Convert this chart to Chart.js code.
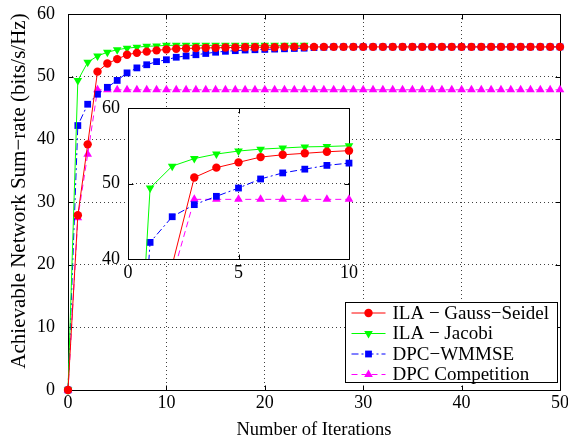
<!DOCTYPE html>
<html>
<head>
<meta charset="utf-8">
<script src="https://cdn.jsdelivr.net/npm/chart.js@4.4.0/dist/chart.umd.min.js"></script>
<style>
  html, body { margin: 0; padding: 0; background: #fff; }
  #wrap { position: relative; width: 568px; height: 443px; overflow: hidden; }
  #main { position: absolute; left: 0; top: 0; }
  #inset { position: absolute; left: 90px; top: 98px; }
</style>
</head>
<body>
<div id="wrap">
  <canvas id="main" width="568" height="443"></canvas>
  <canvas id="inset" width="275" height="190"></canvas>
</div>
<script>
// x values: iteration number 0..50
const iterations = Array.from({ length: 51 }, (_, i) => i);

// sum-rate values (bits/s/Hz)
const gaussSeidel = [
  0, 27.9, 39.2, 50.8, 52.1, 52.8, 53.5, 53.8, 54.0, 54.2, 54.35,
  54.45, 54.5, 54.55, 54.6, 54.6, 54.65, 54.65, 54.7, 54.7, 54.7,
  54.7, 54.75, 54.75, 54.75, 54.75, 54.75, 54.75, 54.75, 54.75, 54.75,
  54.75, 54.75, 54.75, 54.75, 54.75, 54.75, 54.75, 54.75, 54.75, 54.75,
  54.75, 54.75, 54.75, 54.75, 54.75, 54.75, 54.75, 54.75, 54.75, 54.75
];
const jacobi = [
  0, 49.4, 52.3, 53.3, 53.9, 54.3, 54.55, 54.7, 54.85, 54.9, 55.0,
  55.0, 55.0, 55.0, 55.0, 55.0, 55.0, 55.0, 55.0, 55.0, 55.0,
  55.0, 55.0, 55.0, 55.0
];
const wmmse = [
  0, 42.2, 45.6, 47.2, 48.3, 49.4, 50.6, 51.4, 51.9, 52.4, 52.7,
  53.1, 53.3, 53.5, 53.7, 53.9, 54.05, 54.15, 54.25, 54.3, 54.35,
  54.4, 54.45, 54.5, 54.55, 54.65, 54.7, 54.75, 54.75, 54.75, 54.75,
  54.75, 54.75, 54.75, 54.75, 54.75, 54.75, 54.75, 54.75, 54.75, 54.75,
  54.75, 54.75, 54.75, 54.75, 54.75, 54.75, 54.75, 54.75, 54.75, 54.75
];
const competition = [
  0, 27.5, 37.6, 47.9, 47.9, 47.9, 47.9, 47.9, 47.9, 47.9, 47.9,
  47.9, 47.9, 47.9, 47.9, 47.9, 47.9, 47.9, 47.9, 47.9, 47.9,
  47.9, 47.9, 47.9, 47.9, 47.9, 47.9, 47.9, 47.9, 47.9, 47.9,
  47.9, 47.9, 47.9, 47.9, 47.9, 47.9, 47.9, 47.9, 47.9, 47.9,
  47.9, 47.9, 47.9, 47.9, 47.9, 47.9, 47.9, 47.9, 47.9, 47.9
];

const seriesNames = ['ILA \u2212 Gauss\u2212Seidel', 'ILA \u2212 Jacobi', 'DPC\u2212WMMSE', 'DPC Competition'];
const xTitle = 'Number of Iterations';
const yTitle = 'Achievable Network Sum\u2212rate (bits/s/Hz)';

// tick labels
const mainXTicks = [0, 10, 20, 30, 40, 50];
const mainYTicks = [0, 10, 20, 30, 40, 50, 60];
const insetXTicks = [0, 5, 10];
const insetYTicks = [40, 50, 60];

const FONT = 'Liberation Serif, Times New Roman, serif';

function toPoints(values, n) {
    return values.slice(0, n).map((v, i) => ({ x: iterations[i], y: v }));
}

function makeDatasets(n) {
    const styles = [
        { color: '#ff0000', pointStyle: 'circle', radius: 4.2, dash: [], rot: 0 },
        { color: '#00ff00', pointStyle: 'triangle', radius: 5, dash: [], rot: 180 },
        { color: '#0000ff', pointStyle: 'rect', radius: 4.8, dash: [7, 3, 2, 3], rot: 0 },
        { color: '#ff00ff', pointStyle: 'triangle', radius: 5, dash: [6, 4], rot: 0 }
    ];
    const all = [gaussSeidel, jacobi, wmmse, competition];
    return all.map((vals, k) => ({
        label: seriesNames[k],
        data: toPoints(vals, n),
        borderColor: styles[k].color,
        backgroundColor: styles[k].color,
        borderWidth: 1,
        borderDash: styles[k].dash,
        pointStyle: styles[k].pointStyle,
        pointRadius: styles[k].radius,
        pointRotation: styles[k].rot,
        pointBorderWidth: 0,
        tension: 0,
        clip: n > 20 ? 8 : { left: 0, top: 0, right: 8, bottom: 0 }
    }));
}

// white plot area (inset covers the main grid)
const fillPlugin = {
    id: 'fillArea',
    beforeDraw(chart, args, opts) {
        if (!opts.on) return;
        const a = chart.chartArea;
        chart.ctx.save();
        chart.ctx.fillStyle = '#fff';
        chart.ctx.fillRect(a.left, a.top, a.right - a.left, a.bottom - a.top);
        chart.ctx.restore();
    }
};

// MATLAB style box with inward ticks
const framePlugin = {
    id: 'frame',
    beforeDatasetsDraw(chart, args, opts) {
        const { ctx, chartArea: a, scales: { x, y } } = chart;
        const L = Math.round(a.left) + 0.5, R = Math.round(a.right) + 0.5;
        const T = Math.round(a.top) + 0.5, B = Math.round(a.bottom) + 0.5;
        const len = opts.len || 5;
        ctx.save();
        ctx.strokeStyle = '#000';
        ctx.lineWidth = 1;
        ctx.beginPath();
        ctx.rect(L, T, R - L, B - T);
        x.ticks.forEach(t => {
            const px = Math.round(x.getPixelForValue(t.value)) + 0.5;
            ctx.moveTo(px, B); ctx.lineTo(px, B - len);
            ctx.moveTo(px, T); ctx.lineTo(px, T + len);
        });
        y.ticks.forEach(t => {
            const py = Math.round(y.getPixelForValue(t.value)) + 0.5;
            ctx.moveTo(L, py); ctx.lineTo(L + len, py);
            ctx.moveTo(R, py); ctx.lineTo(R - len, py);
        });
        ctx.stroke();
        ctx.restore();
    }
};

// y axis title, placed like the original figure
const yTitlePlugin = {
    id: 'yTitle',
    afterDraw(chart, args, opts) {
        if (!opts.text) return;
        const ctx = chart.ctx;
        ctx.save();
        ctx.translate(opts.x, opts.y);
        ctx.rotate(-Math.PI / 2);
        ctx.font = opts.size + 'px ' + FONT;
        ctx.fillStyle = '#000';
        ctx.textAlign = 'center';
        ctx.textBaseline = 'middle';
        ctx.fillText(opts.text, 0, 0);
        ctx.restore();
    }
};

// legend box in the lower right corner
const legendPlugin = {
    id: 'boxLegend',
    afterDraw(chart, args, opts) {
        if (!opts.on) return;
        const ctx = chart.ctx;
        const bx = 345.5, by = 302.5, bw = 212, bh = 80;
        ctx.save();
        ctx.fillStyle = '#fff';
        ctx.fillRect(bx, by, bw, bh);
        ctx.strokeStyle = '#000';
        ctx.lineWidth = 1;
        ctx.strokeRect(bx, by, bw, bh);
        ctx.font = '19px ' + FONT;
        ctx.textBaseline = 'middle';
        chart.data.datasets.forEach((ds, i) => {
            const yy = by + 10.5 + i * 20.5;
            ctx.strokeStyle = ds.borderColor;
            ctx.fillStyle = ds.backgroundColor;
            ctx.setLineDash(ds.borderDash);
            ctx.beginPath();
            ctx.moveTo(bx + 6, yy);
            ctx.lineTo(bx + 40, yy);
            ctx.stroke();
            ctx.setLineDash([]);
            Chart.helpers.drawPoint(ctx, {
                pointStyle: ds.pointStyle,
                radius: ds.pointRadius,
                rotation: ds.pointRotation,
                borderWidth: 0
            }, bx + 23, yy);
            ctx.fillStyle = '#000';
            ctx.fillText(ds.label, bx + 47, yy + 1);
        });
        ctx.restore();
    }
};

function tickSetter(list) {
    return axis => { axis.ticks = list.map(v => ({ value: v })); };
}

const gridOpts = { color: 'rgba(0,0,0,0.75)', lineWidth: 1, drawTicks: false };
const borderOpts = { display: false, dash: [1, 3] };
const tickFont = { family: FONT, size: 18 };

// main chart
const mainChart = new Chart(document.getElementById('main').getContext('2d'), {
    type: 'line',
    data: { datasets: makeDatasets(51) },
    options: {
        responsive: false,
        animation: false,
        events: [],
        layout: { padding: { left: 0, right: 8, top: 14, bottom: 0 } },
        plugins: {
            legend: { display: false },
            tooltip: { enabled: false },
            fillArea: { on: false },
            boxLegend: { on: true },
            frame: { len: 5 },
            yTitle: { text: yTitle, x: 19, y: 191, size: 21 }
        },
        scales: {
            x: {
                type: 'linear', min: 0, max: 50,
                afterBuildTicks: tickSetter(mainXTicks),
                afterFit: s => { s.height = 53; s.paddingRight = 0; s.paddingLeft = 0; },
                grid: gridOpts, border: borderOpts,
                ticks: { color: '#000', font: tickFont, padding: 2, maxRotation: 0 },
                title: { display: true, text: xTitle, color: '#000',
                         font: { family: FONT, size: 18.5 }, padding: { top: 0, bottom: 2 } }
            },
            y: {
                type: 'linear', min: 0, max: 60,
                afterBuildTicks: tickSetter(mainYTicks),
                afterFit: s => { s.width = 68; s.paddingTop = 0; s.paddingBottom = 0; },
                grid: gridOpts, border: borderOpts,
                ticks: { color: '#000', font: tickFont, padding: 13 }
            }
        }
    },
    plugins: [fillPlugin, framePlugin, legendPlugin, yTitlePlugin]
});

// zoomed inset (first 10 iterations)
const insetChart = new Chart(document.getElementById('inset').getContext('2d'), {
    type: 'line',
    data: { datasets: makeDatasets(11) },
    options: {
        responsive: false,
        animation: false,
        events: [],
        layout: { padding: { left: 0, right: 16, top: 10, bottom: 0 } },
        plugins: {
            legend: { display: false },
            tooltip: { enabled: false },
            fillArea: { on: true },
            boxLegend: { on: false },
            frame: { len: 5 },
            yTitle: { text: '' }
        },
        scales: {
            x: {
                type: 'linear', min: 0, max: 10,
                afterBuildTicks: tickSetter(insetXTicks),
                afterFit: s => { s.height = 29; s.paddingRight = 0; s.paddingLeft = 0; },
                grid: gridOpts, border: borderOpts,
                ticks: { color: '#000', font: tickFont, padding: 3, maxRotation: 0 }
            },
            y: {
                type: 'linear', min: 40, max: 60,
                afterBuildTicks: tickSetter(insetYTicks),
                afterFit: s => { s.width = 38; s.paddingTop = 0; s.paddingBottom = 0; },
                grid: gridOpts, border: borderOpts,
                ticks: { color: '#000', font: tickFont, padding: 8 }
            }
        }
    },
    plugins: [fillPlugin, framePlugin, yTitlePlugin]
});
</script>
</body>
</html>
